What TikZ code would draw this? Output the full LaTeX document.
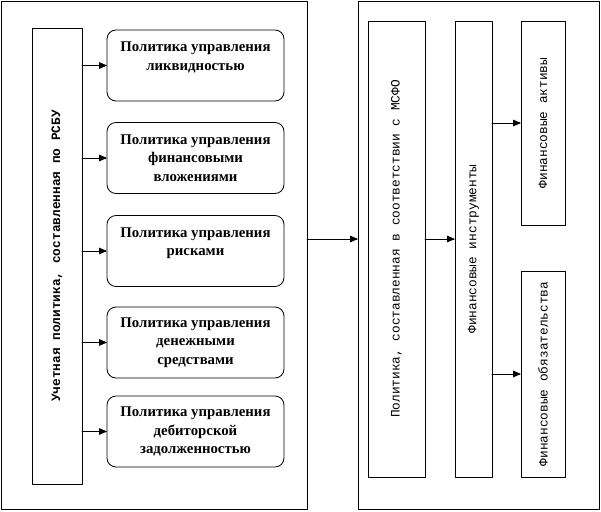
\documentclass[tikz,border=0pt]{standalone}
\usepackage{fontspec}
\usepackage{graphicx}
\setmainfont{Liberation Serif}
\newfontfamily\monofont{Liberation Mono}
\usetikzlibrary{arrows}
\tikzset{
  frame/.style={draw, line width=0.8pt, inner sep=0pt, outer sep=0pt},
  policy/.style={draw, rounded corners=9pt, line width=0.8pt, minimum width=177pt, minimum height=71pt,
    align=center, inner sep=0pt, outer sep=0pt, font=\bfseries\fontsize{14.8}{18.5}\selectfont},
  vtext/.style={font=\monofont\fontsize{12.8}{14}\selectfont},
}

\begin{document}
\begin{tikzpicture}[line cap=round,line join=round,>=triangle 45,x=1pt,y=-1pt]
  \useasboundingbox (0,0) rectangle (601,511);
  % outer frames
  \node[frame, minimum width=306pt, minimum height=508pt] (left) at (154,255) {};
  \node[frame, minimum width=241pt, minimum height=508pt] (right) at (478.5,255) {};
  % RSBU side
  \node[frame, vtext, minimum width=50pt, minimum height=456pt] (rsbu) at (57,256)
    {\rotatebox{90}{\bfseries Учетная политика, составленная по РСБУ}};
  \node[policy] (liq) at (195.5,65.5) {Политика управления\\ликвидностью\\ \mbox{}};
  \node[policy] (inv) at (195.5,158) {Политика управления\\финансовыми\\вложениями};
  \node[policy] (risk) at (195.5,251) {Политика управления\\рисками\\ \mbox{}};
  \node[policy] (cash) at (195.5,342.5) {Политика управления\\денежными\\средствами};
  \node[policy] (debt) at (195.5,431.5) {Политика управления\\дебиторской\\задолженностью};
  \foreach \p in {liq,inv,risk,cash,debt}
    \draw[->,line width=0.8pt] (rsbu.east |- \p) -- (\p.west);
  % IFRS side
  \node[frame, vtext, minimum width=57pt, minimum height=456pt] (msfo) at (396.5,249)
    {\rotatebox{90}{Политика, составленная в соответствии с МСФО}};
  \node[frame, vtext, minimum width=37pt, minimum height=456pt] (instr) at (473.5,249)
    {\rotatebox{90}{Финансовые инструменты}};
  \node[frame, vtext, minimum width=44pt, minimum height=204pt] (assets) at (543,123)
    {\rotatebox{90}{Финансовые активы}};
  \node[frame, vtext, minimum width=44pt, minimum height=206pt] (oblig) at (543,374)
    {\rotatebox{90}{Финансовые обязательства}};
  \draw[->,line width=0.8pt] ([yshift=16pt]left.east) -- ([yshift=16pt]right.west);
  \draw[->,line width=0.8pt] ([yshift=10pt]msfo.east) -- ([yshift=10pt]instr.west);
  \draw[->,line width=0.8pt] (instr.east |- assets) -- (assets.west);
  \draw[->,line width=0.8pt] (instr.east |- oblig) -- (oblig.west);
\end{tikzpicture}
\end{document}
